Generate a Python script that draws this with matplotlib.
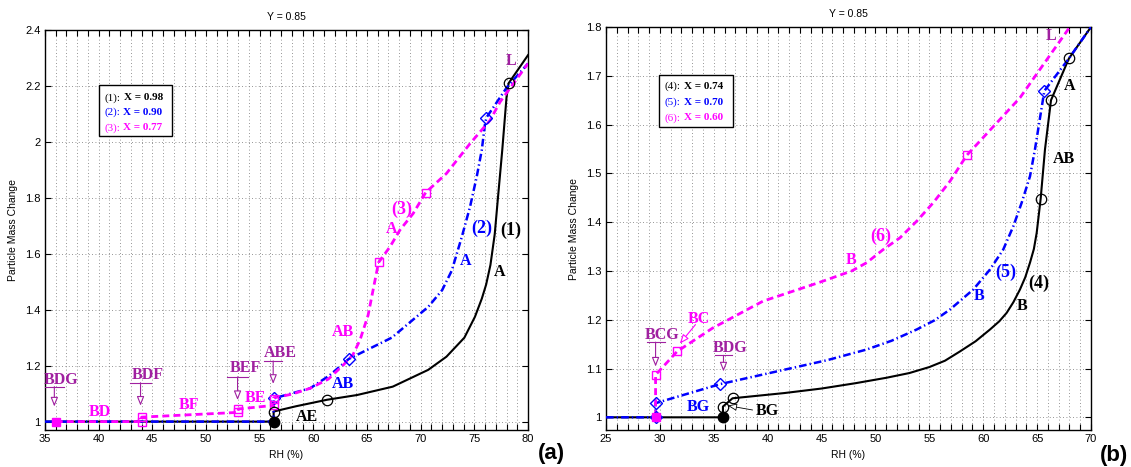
import matplotlib
matplotlib.use('Agg')
import matplotlib.pyplot as plt
from matplotlib.ticker import MultipleLocator, FormatStrFormatter
from matplotlib.patches import Rectangle

plt.rcParams['font.family'] = ['Liberation Sans', 'DejaVu Sans']
plt.rcParams['lines.scale_dashes'] = False

# ---------------- data, panel (a) ----------------
a_title = 'Y = 0.85'
a_xlabel = 'RH (%)'
a_ylabel = 'Particle Mass Change'
a_xticks = [35, 40, 45, 50, 55, 60, 65, 70, 75, 80]
a_yticks = [1.0, 1.2, 1.4, 1.6, 1.8, 2.0, 2.2, 2.4]

a_rh1 = [35, 56.3, 56.3, 58.4, 61.26, 64.07, 67.4, 70.7, 72.4, 74.07, 75.06, 75.7, 76.1, 76.5, 76.9, 77.2, 77.6, 78.0, 78.2, 80]
a_m1 = [1.0, 1.0, 1.036, 1.055, 1.078, 1.095, 1.125, 1.185, 1.232, 1.30, 1.375, 1.44, 1.49, 1.56, 1.67, 1.80, 1.97, 2.16, 2.21, 2.31]
a_rh2 = [35, 56.3, 56.3, 59.7, 61.5, 63.3, 67.3, 70.7, 72.0, 72.9, 73.83, 74.6, 75.22, 75.69, 76.0, 76.13, 78.05, 80]
a_m2 = [1.0, 1.0, 1.083, 1.119, 1.165, 1.224, 1.30, 1.41, 1.47, 1.54, 1.66, 1.768, 1.875, 1.97, 2.066, 2.087, 2.196, 2.28]
a_rh3 = [36, 44, 44, 53, 53, 56.3, 56.3, 58.0, 59.7, 61.4, 62.8, 63.7, 64.35, 65.1, 65.75, 66.08, 67.14, 68.07, 69.3, 70.47, 72.4, 74.6, 76.46, 77.4, 80]
a_m3 = [1.0, 1.0, 1.016, 1.033, 1.045, 1.058, 1.085, 1.098, 1.119, 1.152, 1.2025, 1.24, 1.292, 1.38, 1.506, 1.569, 1.625, 1.685, 1.744, 1.819, 1.887, 1.994, 2.077, 2.143, 2.28]

a_circ_rh = [56.3, 61.26, 78.2]
a_circ_m = [1.036, 1.078, 2.21]
a_dot_rh = [56.3]
a_dot_m = [1.0]
a_diam_rh = [56.3, 63.3, 76.13]
a_diam_m = [1.083, 1.224, 2.087]
a_sq_rh = [44, 44, 53, 53, 56.3, 56.3, 66.08, 70.47]
a_sq_m = [1.0, 1.016, 1.033, 1.046, 1.058, 1.08, 1.569, 1.819]
a_sqf_rh = [36]
a_sqf_m = [1.0]

a_leg_names = ['(1):', '(2):', '(3):']
a_leg_vals = ['X = 0.98', 'X = 0.90', 'X = 0.77']

# ---------------- data, panel (b) ----------------
b_title = 'Y = 0.85'
b_xticks = [25, 30, 35, 40, 45, 50, 55, 60, 65, 70]
b_yticks = [1.0, 1.1, 1.2, 1.3, 1.4, 1.5, 1.6, 1.7, 1.8]

b_rh4 = [25, 35.85, 35.85, 36.74, 41.54, 45.0, 48.17, 51.0, 53.14, 55.0, 56.45, 57.84, 59.3, 60.63, 61.5, 62.17, 62.8, 63.41, 63.9, 64.34, 64.7, 64.96, 65.33, 65.73, 66.29, 67.95, 70]
b_m4 = [1.0, 1.0, 1.022, 1.039, 1.0497, 1.059, 1.070, 1.081, 1.0907, 1.103, 1.116, 1.135, 1.156, 1.18, 1.197, 1.214, 1.236, 1.262, 1.287, 1.317, 1.345, 1.378, 1.448, 1.549, 1.65, 1.7355, 1.8]
b_rh5 = [25, 29.6, 29.6, 35.58, 41.54, 45.5, 49.19, 51.5, 53.83, 55.5, 56.92, 59.08, 60.63, 61.86, 62.8, 63.57, 64.34, 64.8, 65.67, 67.95, 70]
b_m5 = [1.0, 1.0, 1.029, 1.068, 1.0975, 1.117, 1.139, 1.157, 1.18, 1.199, 1.221, 1.262, 1.303, 1.344, 1.392, 1.44, 1.494, 1.549, 1.669, 1.7355, 1.8]
b_rh6 = [29.6, 29.6, 31.6, 34.9, 39.56, 44.86, 47.8, 49.19, 50.73, 52.28, 53.83, 55.37, 56.92, 58.47, 63.41, 68.1]
b_m6 = [1.0, 1.087, 1.135, 1.183, 1.238, 1.277, 1.30, 1.317, 1.344, 1.368, 1.402, 1.44, 1.484, 1.537, 1.655, 1.802]

b_circ_rh = [35.85, 36.74, 65.33, 66.29, 67.95]
b_circ_m = [1.022, 1.039, 1.448, 1.65, 1.7355]
b_dot_rh = [35.85]
b_dot_m = [1.0]
b_diam_rh = [29.6, 29.6, 35.58, 65.67]
b_diam_m = [1.0, 1.029, 1.068, 1.669]
b_sq_rh = [29.6, 31.6, 58.47]
b_sq_m = [1.087, 1.135, 1.537]
b_sqf_rh = [29.6]
b_sqf_m = [1.0]

b_leg_names = ['(4):', '(5):', '(6):']
b_leg_vals = ['X = 0.74', 'X = 0.70', 'X = 0.60']

# ---------------- styling ----------------
BLACK = 'k'
BLUE = '#0000FF'
MAG = '#FF00FF'
PUR = '#A020A0'
SERIF = ['Liberation Serif', 'DejaVu Serif']
W, H = 1131, 467
LBL = 11.5
NUM = 13

fig = plt.figure(figsize=(W / 100, H / 100), dpi=100)
axA = fig.add_axes([45 / W, 1 - 430 / H, 483 / W, 400 / H])
axB = fig.add_axes([606 / W, 1 - 430 / H, 485 / W, 403 / H])


def style_axes(ax, xlim, ylim, xticks, yticks):
    ax.set_xlim(*xlim)
    ax.set_ylim(*ylim)
    ax.set_xticks(xticks)
    ax.set_yticks(yticks)
    ax.xaxis.set_minor_locator(MultipleLocator(1))
    ax.yaxis.set_major_formatter(FormatStrFormatter('%g'))
    ax.tick_params(which='both', direction='in', top=True, right=True,
                   length=4.2, width=0.8, labelsize=8, pad=3)
    ax.tick_params(axis='y', which='minor', left=False, right=False)
    for s in ax.spines.values():
        s.set_linewidth(1.0)
    gkw = dict(color='0.45', linewidth=0.6, dashes=(0.6, 1.8))
    ax.grid(True, which='major', axis='both', **gkw)
    ax.grid(True, which='minor', axis='x', **gkw)
    ax.set_axisbelow(True)


def curves(ax, x1, y1, x2, y2, x3, y3):
    ax.plot(x1, y1, color=BLACK, lw=1.5, solid_joinstyle='round', zorder=3)
    ax.plot(x2, y2, color=BLUE, lw=1.8, dashes=(5.5, 2.2, 1.0, 2.2), zorder=3)
    ax.plot(x3, y3, color=MAG, lw=2.0, dashes=(5.0, 3.0), zorder=3)


def markers(ax, cx, cy, dx, dy, qx, qy, sx, sy, fx, fy):
    ax.plot(qx, qy, 'D', ms=6.5, mfc='none', mec=BLUE, mew=1.0, zorder=4)
    ax.plot(sx, sy, 's', ms=6, mfc='none', mec=MAG, mew=1.0, zorder=4)
    ax.plot(fx, fy, 's', ms=6, mfc=MAG, mec=MAG, zorder=5)
    ax.plot(cx, cy, 'o', ms=7.5, mfc='none', mec=BLACK, mew=0.9, zorder=4)
    ax.plot(dx, dy, 'o', ms=7.5, mfc=BLACK, mec=BLACK, zorder=5)


def label(ax, s, x, y, color, size=LBL):
    ax.text(x, y, s, color=color, family=SERIF, fontweight='bold', fontsize=size,
            ha='center', va='center', zorder=6)


def pointer(ax, s, x, ytext, yline, ytip, half):
    ax.text(x + 0.75 * half, ytext, s, color=PUR, family=SERIF, fontweight='bold',
            fontsize=LBL, ha='center', va='center', zorder=6)
    ax.plot([x - half, x + half], [yline, yline], color=PUR, lw=0.8, zorder=6)
    ax.annotate('', xy=(x, ytip), xytext=(x, yline),
                arrowprops=dict(arrowstyle='-|>,head_length=0.55,head_width=0.22',
                                fc='white', ec=PUR, lw=0.8, shrinkA=0, shrinkB=0),
                zorder=6)


legend_parts = []


def legend_box(ax, x0, x1, ytop, ybot, tx, tys, names, vals):
    ax.add_patch(Rectangle((x0, ybot), x1 - x0, ytop - ybot, fc='white', ec='k',
                           lw=1.0, zorder=5))
    for ty, n, v, c in zip(tys, names, vals, [BLACK, BLUE, MAG]):
        t = ax.text(tx, ty, n, color=c, family=SERIF, fontsize=8, ha='left',
                    va='center', zorder=6)
        legend_parts.append((ax, t, tx, ty, v, c))


# ---------------- panel (a) ----------------
ax = axA
style_axes(ax, (35, 80), (0.97, 2.4), a_xticks, a_yticks)
curves(ax, a_rh1, a_m1, a_rh2, a_m2, a_rh3, a_m3)
markers(ax, a_circ_rh, a_circ_m, a_dot_rh, a_dot_m, a_diam_rh, a_diam_m,
        a_sq_rh, a_sq_m, a_sqf_rh, a_sqf_m)
ax.set_title(a_title, fontsize=7.5, pad=7)
ax.set_xlabel(a_xlabel, fontsize=7.5, labelpad=4)
ax.set_ylabel(a_ylabel, fontsize=7.5, labelpad=5)

label(ax, 'BD', 40.1, 1.036, MAG)
label(ax, 'BF', 48.45, 1.06, MAG)
label(ax, 'BE', 54.6, 1.083, MAG)
label(ax, 'AB', 62.75, 1.32, MAG)
label(ax, 'A', 67.3, 1.69, MAG)
label(ax, '(3)', 68.2, 1.76, MAG, NUM)
label(ax, 'L', 78.4, 2.29, PUR)
label(ax, 'AB', 62.75, 1.135, BLUE)
label(ax, 'A', 74.2, 1.575, BLUE)
label(ax, '(2)', 75.7, 1.69, BLUE, NUM)
label(ax, '(1)', 78.35, 1.685, BLACK, NUM)
label(ax, 'A', 77.4, 1.536, BLACK)
label(ax, 'AE', 59.4, 1.018, BLACK)

pointer(ax, 'BDG', 35.87, 1.149, 1.125, 1.054, 0.9)
pointer(ax, 'BDF', 43.9, 1.167, 1.139, 1.057, 0.95)
pointer(ax, 'BEF', 52.94, 1.19, 1.16, 1.077, 0.95)
pointer(ax, 'ABE', 56.26, 1.246, 1.217, 1.135, 0.85)

legend_box(ax, 40.03, 46.8, 2.2025, 2.02, 40.5, [2.157, 2.105, 2.05],
           a_leg_names, a_leg_vals)

# ---------------- panel (b) ----------------
ax = axB
style_axes(ax, (25, 70), (0.974, 1.8), b_xticks, b_yticks)
curves(ax, b_rh4, b_m4, b_rh5, b_m5, b_rh6, b_m6)
markers(ax, b_circ_rh, b_circ_m, b_dot_rh, b_dot_m, b_diam_rh, b_diam_m,
        b_sq_rh, b_sq_m, b_sqf_rh, b_sqf_m)
ax.set_title(b_title, fontsize=7.5, pad=7)
ax.set_xlabel(a_xlabel, fontsize=7.5, labelpad=4)
ax.set_ylabel(a_ylabel, fontsize=7.5, labelpad=5)

label(ax, 'L', 66.3, 1.781, PUR)
label(ax, 'A', 68.05, 1.68, BLACK)
label(ax, 'AB', 67.45, 1.529, BLACK)
label(ax, '(6)', 50.5, 1.37, MAG, NUM)
label(ax, 'B', 47.7, 1.322, MAG)
label(ax, '(5)', 62.08, 1.297, BLUE, NUM)
label(ax, '(4)', 65.11, 1.274, BLACK, NUM)
label(ax, 'B', 59.6, 1.248, BLUE)
label(ax, 'B', 63.63, 1.2275, BLACK)
label(ax, 'BC', 33.6, 1.2016, MAG)
label(ax, 'BG', 33.6, 1.022, BLUE)
label(ax, 'BG', 40.0, 1.012, BLACK)

ax.annotate('', xy=(31.85, 1.151), xytext=(33.3, 1.19),
            arrowprops=dict(arrowstyle='-|>,head_length=0.55,head_width=0.22',
                            fc='white', ec=MAG, lw=0.8, shrinkA=0, shrinkB=0), zorder=6)
ax.annotate('', xy=(36.3, 1.024), xytext=(38.6, 1.015),
            arrowprops=dict(arrowstyle='-|>,head_length=0.55,head_width=0.22',
                            fc='white', ec=BLACK, lw=0.6, shrinkA=0, shrinkB=0), zorder=6)

pointer(ax, 'BCG', 29.6, 1.169, 1.154, 1.104, 0.83)
pointer(ax, 'BDG', 35.9, 1.142, 1.127, 1.094, 0.8)

legend_box(ax, 29.95, 36.74, 1.701, 1.595, 30.44, [1.678, 1.645, 1.614],
           b_leg_names, b_leg_vals)

# panel tags
fig.text(551.5 / W, 1 - 453 / H, '(a)', fontsize=16, fontweight='bold',
         ha='center', va='center')
fig.text(1114 / W, 1 - 455 / H, '(b)', fontsize=16, fontweight='bold',
         ha='center', va='center')

# bold second part of legend lines
fig.canvas.draw()
r = fig.canvas.get_renderer()
for axx, t, tx, ty, v, c in legend_parts:
    bb = t.get_window_extent(renderer=r)
    off = bb.width * 72 / fig.dpi + 2.5
    axx.annotate(v, xy=(tx, ty), xytext=(off, 0), textcoords='offset points',
                 color=c, family=SERIF, fontsize=8, fontweight='bold',
                 ha='left', va='center', zorder=6)

fig.savefig('out.png', dpi=100)
